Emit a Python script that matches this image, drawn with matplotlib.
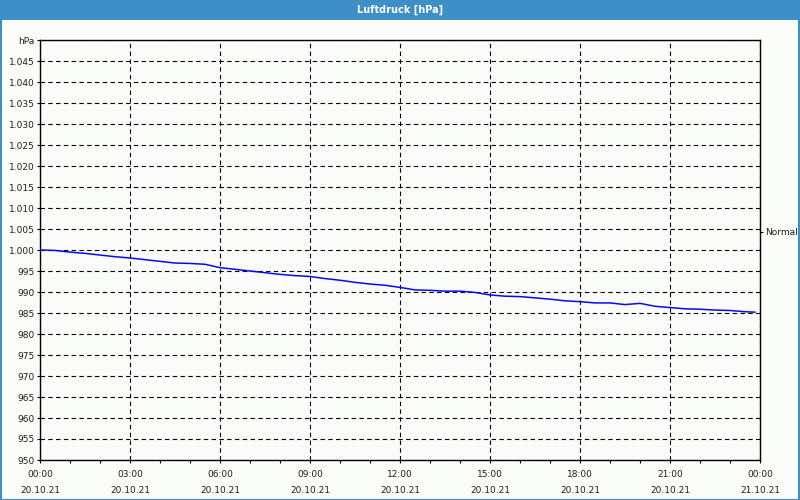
"""
Luftdruck-Tagesverlauf (hPa) im Stil der Wetterstations-Software.
"""

import matplotlib

matplotlib.use("Agg")

import matplotlib.dates as mdates
import matplotlib.patches as mpatches
import matplotlib.pyplot as plt
import numpy as np
import pandas as pd


# Messwerte (alle 30 min, letzter Wert 23:50)
times = pd.to_datetime([
    "2021-10-20 00:00", "2021-10-20 00:30", "2021-10-20 01:00", "2021-10-20 01:30",
    "2021-10-20 02:00", "2021-10-20 02:30", "2021-10-20 03:00", "2021-10-20 03:30",
    "2021-10-20 04:00", "2021-10-20 04:30", "2021-10-20 05:00", "2021-10-20 05:30",
    "2021-10-20 06:00", "2021-10-20 06:30", "2021-10-20 07:00", "2021-10-20 07:30",
    "2021-10-20 08:00", "2021-10-20 08:30", "2021-10-20 09:00", "2021-10-20 09:30",
    "2021-10-20 10:00", "2021-10-20 10:30", "2021-10-20 11:00", "2021-10-20 11:30",
    "2021-10-20 12:00", "2021-10-20 12:30", "2021-10-20 13:00", "2021-10-20 13:30",
    "2021-10-20 14:00", "2021-10-20 14:30", "2021-10-20 15:00", "2021-10-20 15:30",
    "2021-10-20 16:00", "2021-10-20 16:30", "2021-10-20 17:00", "2021-10-20 17:30",
    "2021-10-20 18:00", "2021-10-20 18:30", "2021-10-20 19:00", "2021-10-20 19:30",
    "2021-10-20 20:00", "2021-10-20 20:30", "2021-10-20 21:00", "2021-10-20 21:30",
    "2021-10-20 22:00", "2021-10-20 22:30", "2021-10-20 23:00", "2021-10-20 23:30",
    "2021-10-20 23:50",
])

pressure = [
    1000.0, 999.9, 999.5, 999.2, 998.8, 998.4, 998.1, 997.7,
    997.3, 996.9, 996.8, 996.6, 995.8, 995.4, 995.0, 994.6,
    994.2, 993.9, 993.7, 993.2, 992.8, 992.3, 991.9, 991.6,
    991.1, 990.5, 990.4, 990.2, 990.2, 989.9, 989.3, 989.0,
    988.9, 988.6, 988.3, 987.9, 987.7, 987.4, 987.4, 987.0,
    987.3, 986.6, 986.3, 986.0, 985.9, 985.7, 985.6, 985.3,
    985.2,
]

normal_value = 1004.4

y_ticks = list(range(950, 1051, 5))
y_labels = [f"{v:,}".replace(",", ".") for v in y_ticks[:-1]] + ["hPa"]

x_start = pd.Timestamp("2021-10-20 00:00")
x_end = pd.Timestamp("2021-10-21 00:00")
x_ticks = pd.date_range(x_start, x_end, freq="3h")
x_labels = [t.strftime("%H:%M\n%d.%m.%y") for t in x_ticks]

TITLE = "Luftdruck [hPa]"

BAR_BLUE = "#3d8fc6"
BACKGROUND = "#fafcfa"
LINE_BLUE = "#0a0ae8"
TEXT = "#1e1e1e"


plt.rcParams["font.family"] = ["DejaVu Sans"]
plt.rcParams["font.size"] = 6.5

fig = plt.figure(figsize=(8, 5), dpi=100, facecolor=BACKGROUND)

# Titelleiste und Rahmen
fig.patches.append(
    mpatches.Rectangle(
        (0, 1 - 20 / 500), 1, 20 / 500,
        transform=fig.transFigure,
        facecolor=BAR_BLUE,
        edgecolor="none",
        zorder=0,
    )
)
fig.patches.append(
    mpatches.Rectangle(
        (0.5 / 800, 0.5 / 500), 1 - 1.5 / 800, 1 - 1 / 500,
        transform=fig.transFigure,
        facecolor="none",
        edgecolor=BAR_BLUE,
        linewidth=1.5,
        zorder=0,
    )
)
fig.text(
    0.5, 1 - 10 / 500,
    TITLE,
    color="white",
    fontsize=7,
    fontweight="bold",
    ha="center",
    va="center",
)

ax = fig.add_axes([40 / 800, 40 / 500, 720 / 800, 420 / 500])
ax.set_facecolor(BACKGROUND)

ax.plot(
    times,
    pressure,
    color=LINE_BLUE,
    linewidth=1.1,
    zorder=3,
)

ax.set_ylim(950, 1050)
ax.set_xlim(x_start, x_end)

ax.set_yticks(y_ticks, y_labels)
ax.set_xticks(x_ticks, x_labels)
ax.xaxis.set_minor_locator(mdates.HourLocator())

for label in ax.get_xticklabels():
    label.set_linespacing(2.0)

ax.grid(
    True,
    which="major",
    color="black",
    linestyle=(0, (4, 3)),
    linewidth=0.8,
)
ax.set_axisbelow(True)

ax.tick_params(axis="y", which="major", length=2.5, width=0.8, pad=1.5, colors="black", labelcolor=TEXT)
ax.tick_params(axis="x", which="major", length=2.5, width=0.8, pad=5, colors="black", labelcolor=TEXT)
ax.tick_params(axis="x", which="minor", length=2.5, width=0.8, colors="black")

for spine in ax.spines.values():
    spine.set_color("black")
    spine.set_linewidth(1.0)

# "Normal"-Markierung rechts
ax_right = ax.twinx()
ax_right.set_ylim(950, 1050)
ax_right.set_yticks([normal_value], ["Normal"])
ax_right.tick_params(axis="y", length=2.5, width=0.8, pad=1.5, colors="black", labelcolor=TEXT)
for spine in ax_right.spines.values():
    spine.set_visible(False)

fig.savefig("out.png", dpi=100, facecolor=BACKGROUND)
plt.close(fig)
